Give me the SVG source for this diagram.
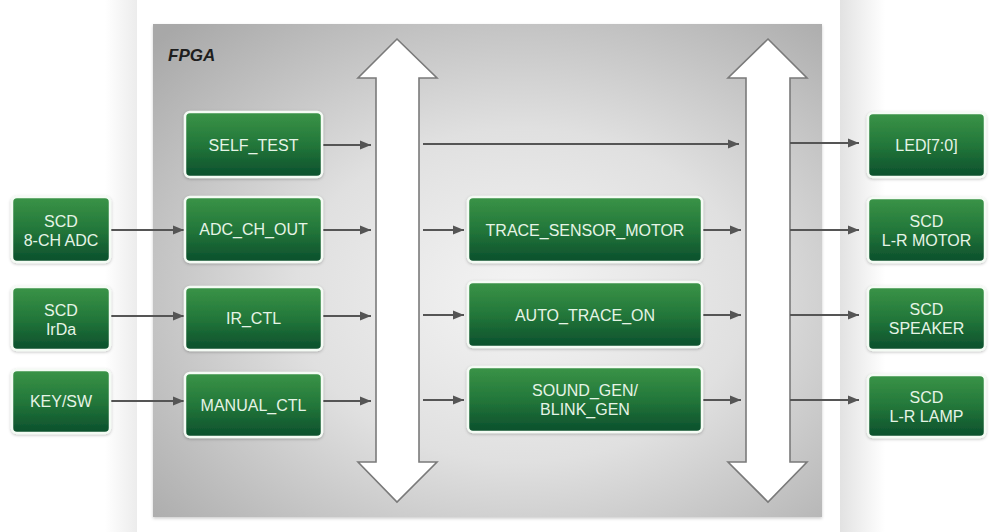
<svg xmlns="http://www.w3.org/2000/svg" width="998" height="532" viewBox="0 0 998 532">
<defs>
<linearGradient id="gbox" x1="0" y1="0" x2="0" y2="1">
<stop offset="0" stop-color="#3a9447"/>
<stop offset="0.5" stop-color="#23773a"/>
<stop offset="1" stop-color="#0b4f2c"/>
</linearGradient>
<radialGradient id="gfpga" cx="0.55" cy="0.55" r="0.75">
<stop offset="0" stop-color="#f4f4f4"/>
<stop offset="0.45" stop-color="#e0e0e0"/>
<stop offset="1" stop-color="#a8a8a8"/>
</radialGradient>
<linearGradient id="gright" x1="0" y1="0" x2="1" y2="0">
<stop offset="0" stop-color="#e2e2e2"/>
<stop offset="1" stop-color="#ffffff"/>
</linearGradient>
<linearGradient id="gleft" x1="0" y1="0" x2="1" y2="0">
<stop offset="0" stop-color="#ffffff"/>
<stop offset="1" stop-color="#ececec"/>
</linearGradient>
<filter id="sh" x="-10%" y="-10%" width="120%" height="130%">
<feDropShadow dx="0" dy="1" stdDeviation="1.5" flood-color="#000" flood-opacity="0.25"/>
</filter>
<filter id="fsh" x="-5%" y="-5%" width="110%" height="110%">
<feDropShadow dx="0" dy="1.5" stdDeviation="1.5" flood-color="#000" flood-opacity="0.2"/>
</filter>
<marker id="ah" markerUnits="userSpaceOnUse" markerWidth="12" markerHeight="10" refX="11" refY="5" orient="auto">
<path d="M0,0.5 L11,5 L0,9.5 Z" fill="#555"/>
</marker>
<style>
.box{fill:url(#gbox);stroke:#f4fbf4;stroke-width:2.5;filter:url(#sh)}
.t{font-family:"Liberation Sans",Arial,sans-serif;font-size:16px;fill:#e6f4e6;text-anchor:middle}
.c{stroke:#555;stroke-width:2.2;fill:none;marker-end:url(#ah)}
.bus{fill:#ffffff;stroke:#7a7a7a;stroke-width:1.6}
</style>
</defs>
<rect x="0" y="0" width="998" height="532" fill="#ffffff"/>
<rect x="105" y="0" width="32" height="532" fill="url(#gleft)"/>
<rect x="840" y="0" width="45" height="532" fill="url(#gright)"/>
<rect id="fpga" x="153" y="24" width="669" height="493" fill="url(#gfpga)" filter="url(#fsh)"/>
<text x="168" y="61" style="font-family:'Liberation Sans',Arial,sans-serif;font-size:17px;font-weight:bold;font-style:italic;fill:#1e1e1e">FPGA</text>

<g id="bus-left"><path class="bus" d="M397,39 L437,78 L419,78 L419,462 L437,462 L397,502 L358,462 L376,462 L376,78 L358,78 Z"/></g>
<g id="bus-right"><path class="bus" d="M768,39 L807,78 L790,78 L790,462 L807,462 L768,502 L728,462 L746,462 L746,78 L728,78 Z"/></g>

<g id="connectors">
<line class="c" x1="110" y1="230" x2="184" y2="230"/>
<line class="c" x1="110" y1="316" x2="184" y2="316"/>
<line class="c" x1="110" y1="401" x2="184" y2="401"/>
<line class="c" x1="323" y1="145" x2="371" y2="145"/>
<line class="c" x1="323" y1="230" x2="371" y2="230"/>
<line class="c" x1="323" y1="316" x2="371" y2="316"/>
<line class="c" x1="323" y1="401" x2="371" y2="401"/>
<line class="c" x1="423" y1="144" x2="739" y2="144"/>
<line class="c" x1="423" y1="230" x2="464" y2="230"/>
<line class="c" x1="423" y1="315" x2="464" y2="315"/>
<line class="c" x1="423" y1="400" x2="464" y2="400"/>
<line class="c" x1="703" y1="230" x2="741" y2="230"/>
<line class="c" x1="703" y1="315" x2="741" y2="315"/>
<line class="c" x1="703" y1="400" x2="741" y2="400"/>
<line class="c" x1="790" y1="143" x2="859" y2="143"/>
<line class="c" x1="790" y1="230" x2="859" y2="230"/>
<line class="c" x1="790" y1="315" x2="859" y2="315"/>
<line class="c" x1="790" y1="400" x2="859" y2="400"/>
</g>

<g id="ext-adc"><rect class="box" x="12" y="197" width="98" height="65" rx="5"/><text class="t" x="61" y="227">SCD</text><text class="t" x="61" y="246">8-CH ADC</text></g>
<g id="ext-irda"><rect class="box" x="12" y="287" width="98" height="63" rx="5"/><text class="t" x="61" y="316">SCD</text><text class="t" x="61" y="335">IrDa</text></g>
<g id="ext-key"><rect class="box" x="12" y="370" width="98" height="63" rx="5"/><text class="t" x="61" y="407">KEY/SW</text></g>

<g id="self-test"><rect class="box" x="185" y="112" width="137" height="65" rx="5"/><text class="t" x="253.5" y="151">SELF_TEST</text></g>
<g id="adc-ch-out"><rect class="box" x="185" y="197" width="137" height="65" rx="5"/><text class="t" x="253.5" y="235">ADC_CH_OUT</text></g>
<g id="ir-ctl"><rect class="box" x="185" y="287" width="137" height="63" rx="5"/><text class="t" x="253.5" y="324">IR_CTL</text></g>
<g id="manual-ctl"><rect class="box" x="185" y="373" width="137" height="64" rx="5"/><text class="t" x="253.5" y="411">MANUAL_CTL</text></g>

<g id="trace-sensor-motor"><rect class="box" x="468" y="197" width="234" height="65" rx="5"/><text class="t" x="585" y="236">TRACE_SENSOR_MOTOR</text></g>
<g id="auto-trace-on"><rect class="box" x="468" y="282" width="234" height="65" rx="5"/><text class="t" x="585" y="321">AUTO_TRACE_ON</text></g>
<g id="sound-blink"><rect class="box" x="468" y="367" width="234" height="65" rx="5"/><text class="t" x="585" y="396">SOUND_GEN/</text><text class="t" x="585" y="415">BLINK_GEN</text></g>

<g id="led"><rect class="box" x="868" y="113" width="117" height="64" rx="5"/><text class="t" x="926.5" y="151">LED[7:0]</text></g>
<g id="motor"><rect class="box" x="868" y="198" width="117" height="64" rx="5"/><text class="t" x="926.5" y="227">SCD</text><text class="t" x="926.5" y="246">L-R MOTOR</text></g>
<g id="speaker"><rect class="box" x="868" y="287" width="117" height="63" rx="5"/><text class="t" x="926.5" y="315">SCD</text><text class="t" x="926.5" y="334">SPEAKER</text></g>
<g id="lamp"><rect class="box" x="868" y="375" width="117" height="62" rx="5"/><text class="t" x="926.5" y="403">SCD</text><text class="t" x="926.5" y="422">L-R LAMP</text></g>
</svg>
